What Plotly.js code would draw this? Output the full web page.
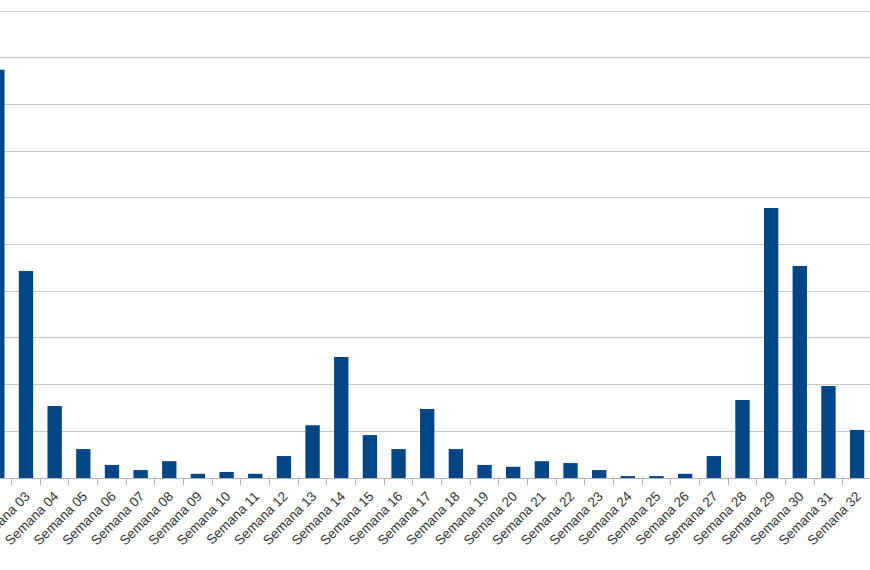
<!DOCTYPE html>
<html>
<head>
<meta charset="utf-8">
<script src="https://cdn.plot.ly/plotly-3.0.1.min.js"></script>
<style>html,body{margin:0;padding:0;background:#fff;}#chart{width:870px;height:570px;}</style>
</head>
<body>
<div id="chart"></div>
<script>
const semanas = ["Semana 02","Semana 03","Semana 04","Semana 05","Semana 06","Semana 07","Semana 08","Semana 09","Semana 10","Semana 11","Semana 12","Semana 13","Semana 14","Semana 15","Semana 16","Semana 17","Semana 18","Semana 19","Semana 20","Semana 21","Semana 22","Semana 23","Semana 24","Semana 25","Semana 26","Semana 27","Semana 28","Semana 29","Semana 30","Semana 31","Semana 32"];
const valores = [8.74,4.43,1.54,0.62,0.28,0.17,0.36,0.09,0.13,0.09,0.47,1.13,2.59,0.92,0.62,1.48,0.62,0.28,0.24,0.36,0.32,0.17,0.04,0.04,0.09,0.47,1.67,5.78,4.54,1.97,1.03];

const trace = {
  type: "bar",
  x: semanas,
  y: valores,
  marker: {color: "#004586"},
  hoverinfo: "x+y"
};
const layout = {
  width: 870, height: 570,
  margin: {l: 0, r: 0, t: 9, b: 92},
  paper_bgcolor: "#ffffff",
  plot_bgcolor: "#ffffff",
  bargap: 0.5,
  showlegend: false,
  xaxis: {
    type: "category",
    range: [0.093, 30.45],
    tickangle: -45,
    ticks: "outside",
    tickson: "boundaries",
    ticklen: 6,
    tickcolor: "#b3b3b3",
    ticklabelstandoff: 4,
    showgrid: false,
    showline: true,
    linecolor: "#b3b3b3",
    linewidth: 1,
    tickfont: {family: "Liberation Sans, Arial, sans-serif", size: 13.5, color: "#333333"}
  },
  yaxis: {
    range: [0, 10.043],
    dtick: 1,
    showticklabels: false,
    showgrid: true,
    gridcolor: "#c8c8c8",
    gridwidth: 1,
    zeroline: false,
    showline: false,
    ticks: ""
  }
};
Plotly.newPlot("chart", [trace], layout, {displayModeBar: false, staticPlot: true});
</script>
</body>
</html>
